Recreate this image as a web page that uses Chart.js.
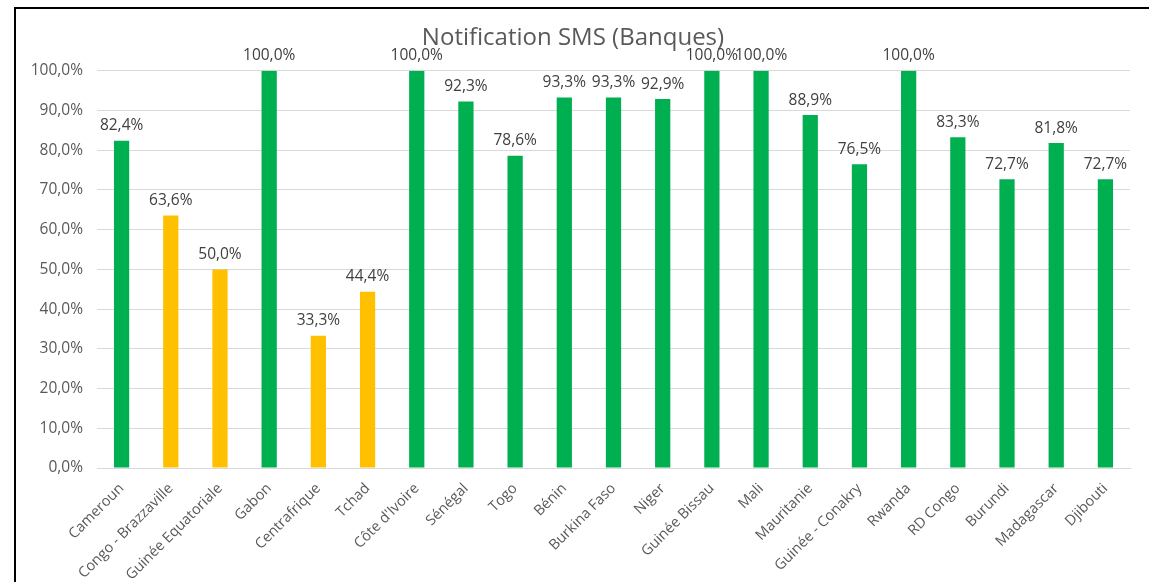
<!DOCTYPE html>
<html>
<head>
<meta charset="utf-8">
<script src="https://cdn.jsdelivr.net/npm/chart.js@4"></script>
<style>
  html, body { margin: 0; padding: 0; background: #fff; }
  .frame {
    position: absolute; left: 14px; top: 7px; right: 0; bottom: 0;
    border-left: 2px solid #000; border-top: 2px solid #000;
  }
  .frame canvas { display: block; }
</style>
</head>
<body>
<div class="frame"><canvas id="smsChart"></canvas></div>
<script>
// Chart data
const countries = ['Cameroun', 'Congo - Brazzaville', 'Guinée Equatoriale', 'Gabon', 'Centrafrique', 'Tchad',
    "Côte d'Ivoire", 'Sénégal', 'Togo', 'Bénin', 'Burkina Faso', 'Niger', 'Guinée Bissau', 'Mali',
    'Mauritanie', 'Guinée - Conakry', 'Rwanda', 'RD Congo', 'Burundi', 'Madagascar', 'Djibouti'];
const rates = [82.4, 63.6, 50.0, 100.0, 33.3, 44.4, 100.0, 92.3, 78.6, 93.3, 93.3, 92.9, 100.0, 100.0,
    88.9, 76.5, 100.0, 83.3, 72.7, 81.8, 72.7];
const yTicks = [0, 10, 20, 30, 40, 50, 60, 70, 80, 90, 100];

const GREEN = '#00B050';
const YELLOW = '#FFC000';
const FONT = "'Open Sans', 'Liberation Sans', sans-serif";

// French style percent, e.g. 82,4%
function formatPct(v) {
    return v.toFixed(1).replace('.', ',') + '%';
}

// Value labels above bars
const barLabels = {
    id: 'barLabels',
    afterDatasetsDraw(chart) {
        const ctx = chart.ctx;
        const meta = chart.getDatasetMeta(0);
        ctx.save();
        ctx.font = '15.5px ' + FONT;
        ctx.fillStyle = '#404040';
        ctx.textAlign = 'center';
        ctx.textBaseline = 'bottom';
        meta.data.forEach((bar, i) => {
            ctx.fillText(formatPct(rates[i]), bar.x, bar.y - 7);
        });
        ctx.restore();
    }
};

document.addEventListener('DOMContentLoaded', () => {
    const canvas = document.getElementById('smsChart');
    new Chart(canvas, {
        type: 'bar',
        data: {
            labels: countries,
            datasets: [{
                data: rates,
                backgroundColor: rates.map(v => v < 70 ? YELLOW : GREEN),
                barPercentage: 0.31,
                categoryPercentage: 1.0
            }]
        },
        options: {
            responsive: true,
            maintainAspectRatio: false,
            animation: false,
            layout: { padding: { left: 0, right: 19, top: 0, bottom: 0 } },
            plugins: {
                legend: { display: false },
                tooltip: { enabled: false },
                title: {
                    display: true,
                    text: 'Notification SMS (Banques)',
                    color: '#595959',
                    font: { family: FONT, size: 24, weight: 'normal' },
                    padding: { top: 15, bottom: 18 }
                }
            },
            scales: {
                y: {
                    min: 0,
                    max: 100,
                    afterBuildTicks: axis => { axis.ticks = yTicks.map(v => ({ value: v })); },
                    afterFit: axis => { axis.width = 81; },
                    border: { display: false },
                    grid: { color: '#D9D9D9', drawTicks: false },
                    ticks: {
                        padding: 14,
                        color: '#595959',
                        font: { family: FONT, size: 15.5 },
                        callback: v => formatPct(v)
                    }
                },
                x: {
                    afterFit: axis => { axis.height = 114; },
                    border: { color: '#D9D9D9' },
                    grid: { display: false },
                    ticks: {
                        minRotation: 45,
                        maxRotation: 45,
                        autoSkip: false,
                        padding: 4,
                        color: '#595959',
                        font: { family: FONT, size: 14.5 }
                    }
                }
            }
        },
        plugins: [barLabels]
    });
});
</script>
</body>
</html>
